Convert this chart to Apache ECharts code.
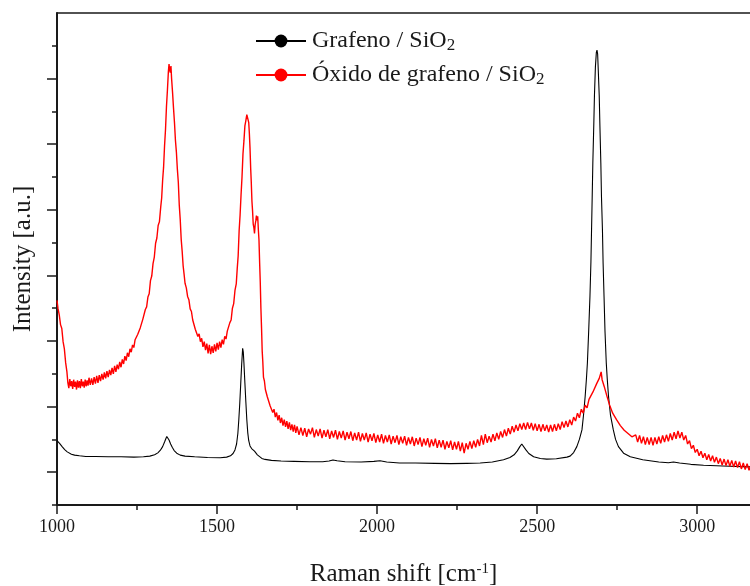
<!DOCTYPE html>
<html>
<head>
<meta charset="utf-8">
<script src="https://cdn.jsdelivr.net/npm/echarts@6/dist/echarts.min.js"></script>
<style>
  html, body { margin: 0; padding: 0; background: #fff; }
  #chart { width: 750px; height: 586px; }
</style>
</head>
<body>
<div id="chart"></div>
<script>
// Raman spectra: graphene and graphene oxide on SiO2 (intensity in arbitrary units)
const xMajorTicks = [1000, 1500, 2000, 2500, 3000];
const xMinorTicks = [1250, 1750, 2250, 2750];
const yMajorTicks = [1, 3, 5, 7, 9, 11, 13];
const yMinorTicks = [0, 2, 4, 6, 8, 10, 12, 14];

const seriesNames = ['Grafeno / SiO2', 'Óxido de grafeno / SiO2'];

// [Raman shift (cm-1), intensity]
const grafeno = [
  [1000,1.96],[1004,1.93],[1008,1.88],[1012,1.83],[1016,1.78],[1020,1.73],[1024,1.69],[1028,1.65],[1032,1.62],[1038,1.58],
  [1045,1.55],[1055,1.52],[1070,1.50],[1090,1.48],[1120,1.48],[1160,1.47],[1200,1.47],[1240,1.46],[1270,1.47],[1290,1.49],
  [1305,1.53],[1315,1.59],[1323,1.67],[1330,1.78],[1336,1.92],[1340,2.02],[1343,2.09],[1346,2.06],[1350,1.98],[1355,1.86],
  [1360,1.76],[1366,1.66],[1374,1.58],[1385,1.52],[1400,1.49],[1430,1.47],[1470,1.45],[1510,1.44],[1530,1.46],[1542,1.50],
  [1550,1.57],[1556,1.68],[1561,1.86],[1565,2.18],[1568,2.60],[1571,3.10],[1574,3.70],[1577,4.30],[1579,4.62],[1580,4.78],
  [1582,4.66],[1584,4.32],[1587,3.72],[1590,3.14],[1593,2.60],[1596,2.20],[1599,1.96],[1603,1.80],[1608,1.72],[1613,1.66],
  [1617,1.64],[1621,1.60],[1626,1.53],[1632,1.47],[1640,1.42],[1650,1.39],[1670,1.36],[1700,1.34],[1740,1.33],[1790,1.32],
  [1830,1.32],[1850,1.34],[1862,1.37],[1875,1.35],[1900,1.32],[1950,1.31],[1990,1.33],[2009,1.35],[2030,1.31],[2070,1.28],
  [2120,1.28],[2180,1.27],[2230,1.26],[2280,1.27],[2322,1.28],[2360,1.31],[2395,1.38],[2415,1.45],[2428,1.53],[2438,1.65],
  [2446,1.78],[2452,1.86],[2458,1.80],[2465,1.68],[2474,1.57],[2489,1.47],[2510,1.42],[2530,1.40],[2560,1.41],[2593,1.46],
  [2603,1.49],[2614,1.60],[2624,1.78],[2632,2.00],[2640,2.29],[2645,2.75],[2650,3.31],[2654,3.85],[2657,4.33],[2661,5.30],
  [2665,6.36],[2668,7.40],[2670,8.40],[2672,9.40],[2674,10.43],[2677,11.60],[2679,12.47],[2682,13.35],[2685,13.80],[2687,13.87],
  [2689,13.75],[2691,13.25],[2694,12.47],[2696,11.60],[2699,10.43],[2701,9.40],[2704,8.40],[2706,7.40],[2709,6.36],[2712,5.30],
  [2716,4.33],[2719,3.85],[2723,3.31],[2729,2.75],[2738,2.29],[2745,2.00],[2754,1.78],[2770,1.58],[2791,1.47],[2830,1.38],
  [2880,1.31],[2910,1.29],[2926,1.31],[2945,1.28],[2980,1.24],[3020,1.21],[3080,1.19],[3168,1.16]
];

const oxidoGrafeno = [
  [1000,6.24],[1003,6.00],[1007,5.80],[1011,5.50],[1015,5.38],[1019,4.98],[1023,4.76],[1027,4.34],[1031,4.06],[1034,3.72],
  [1037,3.56],[1040,3.84],[1043,3.62],[1046,3.78],[1049,3.54],[1052,3.82],[1055,3.60],[1058,3.76],[1061,3.52],[1064,3.80],
  [1067,3.58],[1070,3.78],[1073,3.56],[1076,3.84],[1079,3.62],[1082,3.76],[1085,3.58],[1088,3.82],[1091,3.62],[1094,3.80],
  [1097,3.64],[1100,3.88],[1104,3.66],[1108,3.86],[1112,3.66],[1116,3.90],[1120,3.70],[1124,3.94],[1128,3.72],[1132,3.96],
  [1136,3.78],[1140,4.00],[1144,3.82],[1148,4.04],[1152,3.86],[1156,4.08],[1160,3.90],[1164,4.12],[1168,3.96],[1172,4.18],
  [1176,4.00],[1180,4.24],[1184,4.06],[1188,4.28],[1192,4.14],[1196,4.36],[1200,4.20],[1204,4.44],[1208,4.30],[1212,4.54],
  [1216,4.40],[1220,4.64],[1224,4.52],[1228,4.76],[1232,4.66],[1236,4.88],[1240,4.80],[1244,5.04],[1248,4.98],[1252,5.20],
  [1256,5.18],[1260,5.40],[1264,5.40],[1268,5.66],[1272,5.68],[1276,5.96],[1280,6.04],[1284,6.34],[1288,6.44],[1292,6.84],
  [1296,6.98],[1300,7.36],[1304,7.56],[1308,7.98],[1312,8.14],[1316,8.52],[1320,8.64],[1324,9.08],[1327,9.36],[1330,9.90],
  [1333,10.30],[1336,10.95],[1339,11.45],[1342,12.15],[1345,12.65],[1348,13.22],[1350,13.44],[1352,13.26],[1354,13.18],[1356,13.38],
  [1358,13.00],[1361,12.58],[1364,12.10],[1367,11.66],[1370,11.12],[1373,10.76],[1376,10.24],[1379,9.84],[1382,9.14],[1385,8.70],
  [1388,8.10],[1391,7.74],[1394,7.30],[1397,7.04],[1400,6.76],[1404,6.62],[1408,6.36],[1412,6.26],[1416,5.98],[1420,5.90],
  [1424,5.64],[1428,5.60],[1432,5.36],[1436,5.42],[1440,5.14],[1444,5.22],[1448,4.98],[1452,5.08],[1456,4.82],[1460,4.98],
  [1464,4.72],[1468,4.92],[1472,4.62],[1476,4.88],[1480,4.60],[1484,4.84],[1488,4.64],[1492,4.90],[1496,4.68],[1500,4.94],
  [1504,4.74],[1508,4.98],[1512,4.80],[1516,5.04],[1520,4.90],[1524,5.14],[1528,5.06],[1532,5.30],[1536,5.30],[1540,5.56],
  [1544,5.64],[1548,6.00],[1552,6.14],[1556,6.54],[1560,6.74],[1563,7.20],[1566,7.60],[1569,8.36],[1572,8.84],[1575,9.46],
  [1578,10.00],[1581,10.70],[1584,11.10],[1587,11.56],[1590,11.72],[1593,11.90],[1595,11.92],[1597,11.74],[1599,11.66],[1601,11.32],
  [1603,10.88],[1605,10.28],[1607,9.82],[1609,9.26],[1611,8.96],[1613,8.56],[1615,8.46],[1617,8.28],[1619,8.54],[1621,8.66],
  [1623,8.82],[1625,8.68],[1627,8.80],[1629,8.40],[1631,8.08],[1633,7.40],[1635,6.80],[1637,6.00],[1639,5.40],[1641,4.70],
  [1643,4.36],[1645,3.90],[1648,3.78],[1651,3.52],[1654,3.52],[1657,3.30],[1660,3.34],[1663,3.26],[1666,3.02],[1670,3.08],
  [1674,2.82],[1678,2.92],[1682,2.68],[1686,2.82],[1690,2.58],[1694,2.74],[1698,2.50],[1702,2.66],[1706,2.42],[1710,2.60],
  [1714,2.38],[1718,2.56],[1722,2.32],[1726,2.52],[1730,2.28],[1734,2.46],[1738,2.24],[1742,2.44],[1746,2.20],[1750,2.40],
  [1756,2.14],[1762,2.36],[1768,2.12],[1774,2.34],[1780,2.08],[1786,2.32],[1792,2.16],[1798,2.36],[1804,2.06],[1810,2.30],
  [1816,2.10],[1822,2.32],[1828,2.04],[1834,2.28],[1840,2.08],[1846,2.30],[1852,2.02],[1858,2.26],[1864,2.06],[1870,2.28],
  [1876,2.00],[1882,2.24],[1888,2.04],[1894,2.26],[1900,1.98],[1906,2.22],[1912,2.02],[1918,2.24],[1924,1.96],[1930,2.20],
  [1936,1.98],[1942,2.22],[1948,1.94],[1954,2.18],[1960,1.98],[1966,2.20],[1972,1.92],[1978,2.16],[1984,1.96],[1990,2.18],
  [1996,1.90],[2002,2.14],[2008,1.92],[2014,2.16],[2020,1.88],[2026,2.12],[2032,1.92],[2038,2.14],[2044,1.86],[2050,2.10],
  [2056,1.90],[2062,2.12],[2068,1.84],[2074,2.08],[2080,1.88],[2086,2.10],[2092,1.82],[2098,2.06],[2104,1.86],[2110,2.08],
  [2116,1.80],[2122,2.04],[2128,1.84],[2134,2.06],[2140,1.78],[2146,2.02],[2152,1.82],[2158,2.04],[2164,1.76],[2170,2.00],
  [2176,1.80],[2182,2.02],[2188,1.74],[2194,1.98],[2200,1.76],[2206,1.98],[2212,1.70],[2218,1.94],[2224,1.74],[2230,1.96],
  [2236,1.68],[2242,1.92],[2248,1.70],[2254,1.94],[2260,1.64],[2266,1.90],[2272,1.58],[2278,1.88],[2284,1.70],[2290,1.94],
  [2296,1.72],[2302,1.96],[2308,1.76],[2314,2.00],[2320,1.80],[2326,2.12],[2332,1.84],[2338,2.16],[2344,1.90],[2350,2.10],
  [2356,1.92],[2362,2.16],[2368,1.96],[2374,2.20],[2380,2.00],[2386,2.24],[2392,2.06],[2398,2.30],[2404,2.10],[2410,2.34],
  [2416,2.16],[2422,2.40],[2428,2.22],[2434,2.44],[2440,2.26],[2446,2.48],[2452,2.30],[2458,2.50],[2464,2.30],[2470,2.52],
  [2476,2.32],[2482,2.50],[2488,2.28],[2494,2.48],[2500,2.26],[2506,2.46],[2512,2.24],[2518,2.46],[2524,2.26],[2530,2.44],
  [2536,2.22],[2542,2.44],[2548,2.24],[2554,2.46],[2560,2.26],[2566,2.48],[2572,2.30],[2578,2.54],[2584,2.36],[2590,2.56],
  [2596,2.38],[2602,2.60],[2608,2.44],[2614,2.68],[2620,2.56],[2626,2.80],[2632,2.66],[2638,2.92],[2644,2.80],[2650,3.04],
  [2656,2.96],[2662,3.22],[2668,3.16],[2674,3.44],[2680,3.42],[2686,3.70],[2690,3.64],[2694,3.86],[2697,3.80],[2700,4.06],
  [2703,3.82],[2706,3.86],[2710,3.60],[2714,3.56],[2718,3.32],[2722,3.30],[2726,3.06],[2730,3.06],[2736,2.80],[2742,2.78],
  [2748,2.60],[2754,2.56],[2760,2.42],[2766,2.40],[2772,2.28],[2778,2.28],[2784,2.18],[2790,2.16],[2796,2.08],[2802,2.08],
  [2808,2.14],[2814,1.92],[2820,2.12],[2826,1.88],[2832,2.08],[2838,1.84],[2844,2.06],[2850,1.84],[2856,2.06],[2862,1.82],
  [2868,2.06],[2874,1.86],[2880,2.08],[2886,1.88],[2892,2.12],[2898,1.92],[2904,2.14],[2910,1.94],[2916,2.18],[2922,1.98],
  [2928,2.22],[2934,2.02],[2940,2.26],[2946,2.04],[2952,2.22],[2958,1.98],[2964,2.12],[2970,1.86],[2976,1.96],[2982,1.72],
  [2988,1.82],[2994,1.60],[3000,1.70],[3006,1.50],[3012,1.64],[3018,1.44],[3024,1.58],[3030,1.38],[3036,1.54],[3042,1.34],
  [3048,1.50],[3054,1.30],[3060,1.46],[3066,1.26],[3072,1.42],[3078,1.22],[3084,1.40],[3090,1.20],[3096,1.38],[3102,1.18],
  [3108,1.36],[3114,1.16],[3120,1.34],[3126,1.14],[3132,1.32],[3138,1.10],[3144,1.28],[3150,1.08],[3156,1.26],[3162,1.06],
  [3168,1.22]
];

const X_MIN = 1000, X_MAX = 3165;
const Y_MIN = 0, Y_MAX = 15;

const FONT = '"Liberation Serif", "Times New Roman", serif';
const INK = '#1a1a1a';

const chart = echarts.init(document.getElementById('chart'), null, { renderer: 'canvas' });

const hiddenAxisBits = {
  axisLabel: { show: false },
  splitLine: { show: false }
};

chart.setOption({
  backgroundColor: '#fff',
  animation: false,
  textStyle: { fontFamily: FONT },
  grid: { left: 57, right: 0, top: 13, bottom: 81, containLabel: false, outerBoundsMode: 'none' },
  legend: {
    orient: 'vertical',
    left: 250,
    top: 24,
    itemWidth: 50,
    itemHeight: 16,
    itemGap: 9,
    data: seriesNames,
    formatter: name => '{t|' + name.slice(0, -1) + '}{s|' + name.slice(-1) + '}',
    textStyle: {
      color: INK,
      fontFamily: FONT,
      fontSize: 24,
      rich: {
        t: { fontFamily: FONT, fontSize: 24, color: INK, lineHeight: 26, padding: [0, 0, 0, 1] },
        s: { fontFamily: FONT, fontSize: 17, color: INK, lineHeight: 8, verticalAlign: 'bottom' }
      }
    }
  },
  xAxis: [
    {
      type: 'value', position: 'bottom', min: X_MIN, max: X_MAX,
      name: '{t|Raman shift [cm}{p|-1}{t|]}',
      nameLocation: 'middle', nameGap: 57,
      nameTextStyle: {
        color: INK,
        rich: {
          t: { fontFamily: FONT, fontSize: 25, color: INK },
          p: { fontFamily: FONT, fontSize: 15, color: INK, verticalAlign: 'top', padding: [0, 0, 8, 0] }
        }
      },
      axisLine: { show: true, onZero: false, lineStyle: { color: INK, width: 2 } },
      axisTick: { show: true, inside: false, length: 9, customValues: xMajorTicks, lineStyle: { color: INK, width: 1.5 } },
      axisLabel: {
        show: true, customValues: xMajorTicks, margin: 13, color: INK, fontFamily: FONT, fontSize: 18,
        formatter: v => String(v)
      },
      splitLine: { show: false }
    },
    {
      type: 'value', position: 'bottom', min: X_MIN, max: X_MAX,
      axisLine: { show: false, onZero: false },
      axisTick: { show: true, inside: false, length: 5, customValues: xMinorTicks, lineStyle: { color: INK, width: 1.5 } },
      ...hiddenAxisBits
    },
    {
      type: 'value', position: 'top', min: X_MIN, max: X_MAX,
      axisLine: { show: true, onZero: false, lineStyle: { color: INK, width: 1.5 } },
      axisTick: { show: false },
      ...hiddenAxisBits
    }
  ],
  yAxis: [
    {
      type: 'value', position: 'left', min: Y_MIN, max: Y_MAX,
      name: 'Intensity [a.u.]',
      nameLocation: 'middle', nameGap: 21,
      nameTextStyle: { color: INK, fontFamily: FONT, fontSize: 25 },
      axisLine: { show: true, onZero: false, lineStyle: { color: INK, width: 2 } },
      axisTick: { show: true, inside: false, length: 10, customValues: yMajorTicks, lineStyle: { color: INK, width: 1.5 } },
      ...hiddenAxisBits
    },
    {
      type: 'value', position: 'left', min: Y_MIN, max: Y_MAX,
      axisLine: { show: false, onZero: false },
      axisTick: { show: true, inside: false, length: 5, customValues: yMinorTicks, lineStyle: { color: INK, width: 1.5 } },
      ...hiddenAxisBits
    }
  ],
  series: [
    {
      name: seriesNames[0], type: 'line', xAxisIndex: 0, yAxisIndex: 0,
      data: grafeno, showSymbol: false, symbol: 'circle', symbolSize: 13,
      itemStyle: { color: '#000' },
      lineStyle: { color: '#000', width: 1.1 },
      smooth: false, silent: true
    },
    {
      name: seriesNames[1], type: 'line', xAxisIndex: 0, yAxisIndex: 0,
      data: oxidoGrafeno, showSymbol: false, symbol: 'circle', symbolSize: 13,
      itemStyle: { color: '#ff0000' },
      lineStyle: { color: '#ff0000', width: 1.4 },
      smooth: false, silent: true
    }
  ]
});
</script>
</body>
</html>
